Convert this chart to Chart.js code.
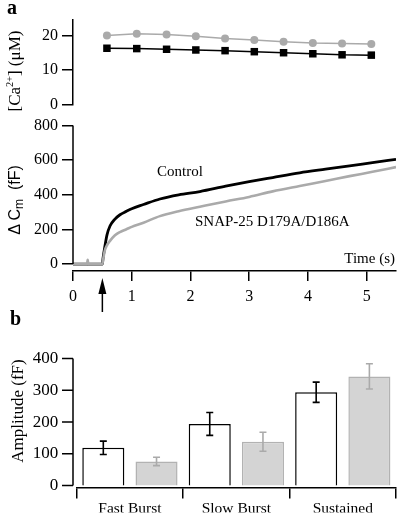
<!DOCTYPE html>
<html>
<head>
<meta charset="utf-8">
<script src="https://cdn.jsdelivr.net/npm/chart.js@4/dist/chart.umd.min.js"></script>
<style>
  body { margin: 0; background: #fff; }
  #wrap { position: relative; width: 400px; height: 516px; overflow: hidden;
          font-family: "Liberation Serif", "Times New Roman", serif; color: #000; }
  .box { position: absolute; left: 0; width: 400px; }
  .txt { position: absolute; white-space: nowrap; line-height: 1; }
  .rot { transform: translate(-50%, -50%) rotate(-90deg); }
</style>
</head>
<body>
<div id="wrap">
  <div class="box" style="top:0;height:118px"><canvas id="caChart"></canvas></div>
  <div class="box" style="top:112px;height:208px"><canvas id="cmChart"></canvas></div>
  <div class="box" style="top:330px;height:186px"><canvas id="ampChart"></canvas></div>

  <div class="txt" style="left:7px;top:-3.5px;font-size:20px;font-weight:bold">a</div>
  <div class="txt" style="left:10px;top:308px;font-size:20px;font-weight:bold">b</div>

  <div class="txt rot" style="left:14px;top:71px;font-size:17px">[Ca<sup style="font-size:0.6em;vertical-align:0.7em">2+</sup>] (&mu;M)</div>
  <div class="txt rot" style="left:16px;top:200px;font-size:16px;font-family:'Liberation Sans',Arial,sans-serif">&Delta; C<sub style="font-size:0.75em;vertical-align:-0.3em">m</sub>&nbsp; (fF)</div>
  <div class="txt rot" style="left:17px;top:411px;font-size:17px">Amplitude (fF)</div>

  <div class="txt" style="left:157px;top:163.5px;font-size:15px">Control</div>
  <div class="txt" style="left:195px;top:214px;font-size:15px">SNAP-25 D179A/D186A</div>
  <div class="txt" style="right:5px;top:250.5px;font-size:15px">Time (s)</div>
</div>

<script>
// [Ca2+] samples (s, uM)
const caTimes = [0.58, 1.09, 1.6, 2.1, 2.6, 3.1, 3.6, 4.1, 4.6, 5.1];
const caControl = [16.3, 16.2, 16.0, 15.8, 15.6, 15.3, 15.0, 14.7, 14.4, 14.3];
const caMutant = [20.0, 20.5, 20.3, 19.8, 19.1, 18.7, 18.2, 17.8, 17.7, 17.5];

// capacitance traces (s, fF)
const cmTimes = [0, 0.24, 0.25, 0.26, 0.5, 0.51, 0.54, 0.58, 0.63, 0.71, 0.8, 0.91, 1.0, 1.2, 1.48, 1.8, 2.16, 2.6, 3.0, 3.4, 3.86, 4.3, 4.71, 5.1, 5.5];
const cmControl = [0, 0, 0, 0, 0, 30, 96, 170, 220, 258, 285, 305, 320, 344, 376, 400, 419, 450, 476, 500, 527, 548, 567, 586, 605];
const cmMutant = [0, 0, 25, 0, 0, 20, 77, 110, 134, 165, 185, 201, 215, 239, 277, 305, 331, 362, 388, 420, 451, 480, 508, 533, 560];
const timeTicks = [0, 1, 2, 3, 4, 5];
const cmTicks = [0, 200, 400, 600, 800];
const caTicks = [0, 10, 20];

// burst amplitudes (fF)
const burstLabels = ['Fast Burst', 'Slow Burst', 'Sustained'];
const ampControl = [119, 194, 294];
const ampControlErr = [21, 36, 32];
const ampMutant = [76, 138, 344];
const ampMutantErr = [13, 30, 40];
const ampTicks = [0, 100, 200, 300, 400];

const SERIF = '"Liberation Serif", "Times New Roman", serif';
const GREY = 'rgb(170,170,170)';
Chart.defaults.font.family = SERIF;
Chart.defaults.color = '#000';
Chart.defaults.animation = false;
Chart.defaults.plugins.legend.display = false;
Chart.defaults.plugins.tooltip.enabled = false;

const pts = (xs, ys) => xs.map((x, i) => ({ x: x, y: ys[i] }));
const fixTicks = (vals) => (scale) => { scale.ticks = vals.map(v => ({ value: v })); };

// top panel: calcium
new Chart(document.getElementById('caChart'), {
  type: 'line',
  data: {
    datasets: [
      { data: pts(caTimes, caMutant), borderColor: GREY, backgroundColor: GREY, borderWidth: 1.5,
        pointStyle: 'circle', pointRadius: 4, pointBorderWidth: 0, clip: false },
      { data: pts(caTimes, caControl), borderColor: '#000', backgroundColor: '#000', borderWidth: 1.5,
        pointStyle: 'rect', pointRadius: 5.3, pointBorderWidth: 0, clip: false }
    ]
  },
  options: {
    responsive: true,
    maintainAspectRatio: false,
    layout: { padding: { top: 20, right: 4, bottom: 11.3, left: 0 } },
    scales: {
      x: { type: 'linear', min: 0, max: 5.5, display: false },
      y: {
        min: 0, max: 24.5,
        afterFit: (s) => { s.width = 73; },
        afterBuildTicks: fixTicks(caTicks),
        grid: { drawOnChartArea: false, tickLength: 11, color: '#000', lineWidth: 1.5 },
        border: { color: '#000', width: 1.5 },
        ticks: { padding: 4, font: { size: 16 } }
      }
    }
  }
});

// middle panel: capacitance
const cmAxisPlugin = {
  id: 'cmAxis',
  afterDraw(chart) {
    const ctx = chart.ctx;
    const x = chart.scales.x, y = chart.scales.y;
    ctx.save();
    ctx.strokeStyle = '#000';
    ctx.lineWidth = 1.5;
    ctx.beginPath();
    ctx.moveTo(chart.chartArea.left, y.getPixelForValue(800));
    ctx.lineTo(chart.chartArea.left, y.getPixelForValue(0));
    ctx.stroke();
    // stimulus arrow
    const ax = x.getPixelForValue(0.5);
    ctx.beginPath();
    ctx.moveTo(ax, 181);
    ctx.lineTo(ax, 200);
    ctx.stroke();
    ctx.fillStyle = '#000';
    ctx.beginPath();
    ctx.moveTo(ax, 166);
    ctx.lineTo(ax - 4, 182);
    ctx.lineTo(ax + 4, 182);
    ctx.closePath();
    ctx.fill();
    ctx.restore();
  }
};

new Chart(document.getElementById('cmChart'), {
  type: 'line',
  data: {
    datasets: [
      { data: pts(cmTimes, cmMutant), borderColor: GREY, borderWidth: 2.6, pointRadius: 0,
        cubicInterpolationMode: 'monotone' },
      { data: pts(cmTimes, cmControl), borderColor: '#000', borderWidth: 2.8, pointRadius: 0,
        cubicInterpolationMode: 'monotone' }
    ]
  },
  options: {
    responsive: true,
    maintainAspectRatio: false,
    layout: { padding: { top: 11.5, right: 4, bottom: 0, left: 0 } },
    scales: {
      x: {
        type: 'linear', min: 0, max: 5.5,
        afterFit: (s) => { s.height = 49; },
        afterBuildTicks: fixTicks(timeTicks),
        grid: { drawOnChartArea: false, tickLength: 10, color: '#000', lineWidth: 1.5 },
        border: { color: '#000', width: 1.5 },
        ticks: { padding: 6, font: { size: 16 }, maxRotation: 0 }
      },
      y: {
        min: -40, max: 800,
        afterFit: (s) => { s.width = 73; },
        afterBuildTicks: fixTicks(cmTicks),
        grid: { drawOnChartArea: false, tickLength: 11, color: '#000', lineWidth: 1.5 },
        border: { display: false },
        ticks: { padding: 4, font: { size: 16 } }
      }
    }
  },
  plugins: [cmAxisPlugin]
});

// bottom panel: amplitudes
const ampPlugin = {
  id: 'ampExtras',
  afterDatasetsDraw(chart) {
    const ctx = chart.ctx;
    const y = chart.scales.y;
    ctx.save();
    chart.data.datasets.forEach((ds, di) => {
      const meta = chart.getDatasetMeta(di);
      ctx.strokeStyle = ds.errColor;
      ctx.lineWidth = 1.6;
      meta.data.forEach((bar, i) => {
        const hi = y.getPixelForValue(ds.data[i] + ds.errors[i]);
        const lo = y.getPixelForValue(ds.data[i] - ds.errors[i]);
        ctx.beginPath();
        ctx.moveTo(bar.x, hi); ctx.lineTo(bar.x, lo);
        ctx.moveTo(bar.x - 3.5, hi); ctx.lineTo(bar.x + 3.5, hi);
        ctx.moveTo(bar.x - 3.5, lo); ctx.lineTo(bar.x + 3.5, lo);
        ctx.stroke();
      });
    });
    // y axis line and ticks
    const ax = 73;
    ctx.strokeStyle = '#000';
    ctx.lineWidth = 1.5;
    ctx.beginPath();
    ctx.moveTo(ax, y.getPixelForValue(400));
    ctx.lineTo(ax, y.getPixelForValue(0));
    ampTicks.forEach(v => {
      const py = y.getPixelForValue(v);
      ctx.moveTo(ax - 11, py);
      ctx.lineTo(ax, py);
    });
    ctx.stroke();
    ctx.restore();
  }
};

new Chart(document.getElementById('ampChart'), {
  type: 'bar',
  data: {
    labels: burstLabels,
    datasets: [
      { data: ampControl, errors: ampControlErr, errColor: '#000',
        backgroundColor: '#fff', borderColor: '#000', borderWidth: 1.5,
        barPercentage: 0.79, categoryPercentage: 1.0 },
      { data: ampMutant, errors: ampMutantErr, errColor: GREY,
        backgroundColor: 'rgb(212,212,212)', borderColor: 'rgb(178,178,178)', borderWidth: 1.5,
        barPercentage: 0.79, categoryPercentage: 1.0 }
    ]
  },
  options: {
    responsive: true,
    maintainAspectRatio: false,
    layout: { padding: { top: 20, right: 4, bottom: 0, left: 0 } },
    scales: {
      x: {
        offset: true,
        afterFit: (s) => { s.height = 25; },
        grid: { offset: true, drawOnChartArea: false, tickLength: 11, color: '#000', lineWidth: 1.5 },
        border: { color: '#000', width: 1.5 },
        ticks: { padding: 1, font: { size: 15.5 }, maxRotation: 0 }
      },
      y: {
        min: -5.75, max: 400,
        afterFit: (s) => { s.width = 76.7; },
        afterBuildTicks: fixTicks(ampTicks),
        grid: { display: false, drawTicks: false },
        border: { display: false },
        ticks: { padding: 18.4, font: { size: 17 } }
      }
    }
  },
  plugins: [ampPlugin]
});
</script>
</body>
</html>
